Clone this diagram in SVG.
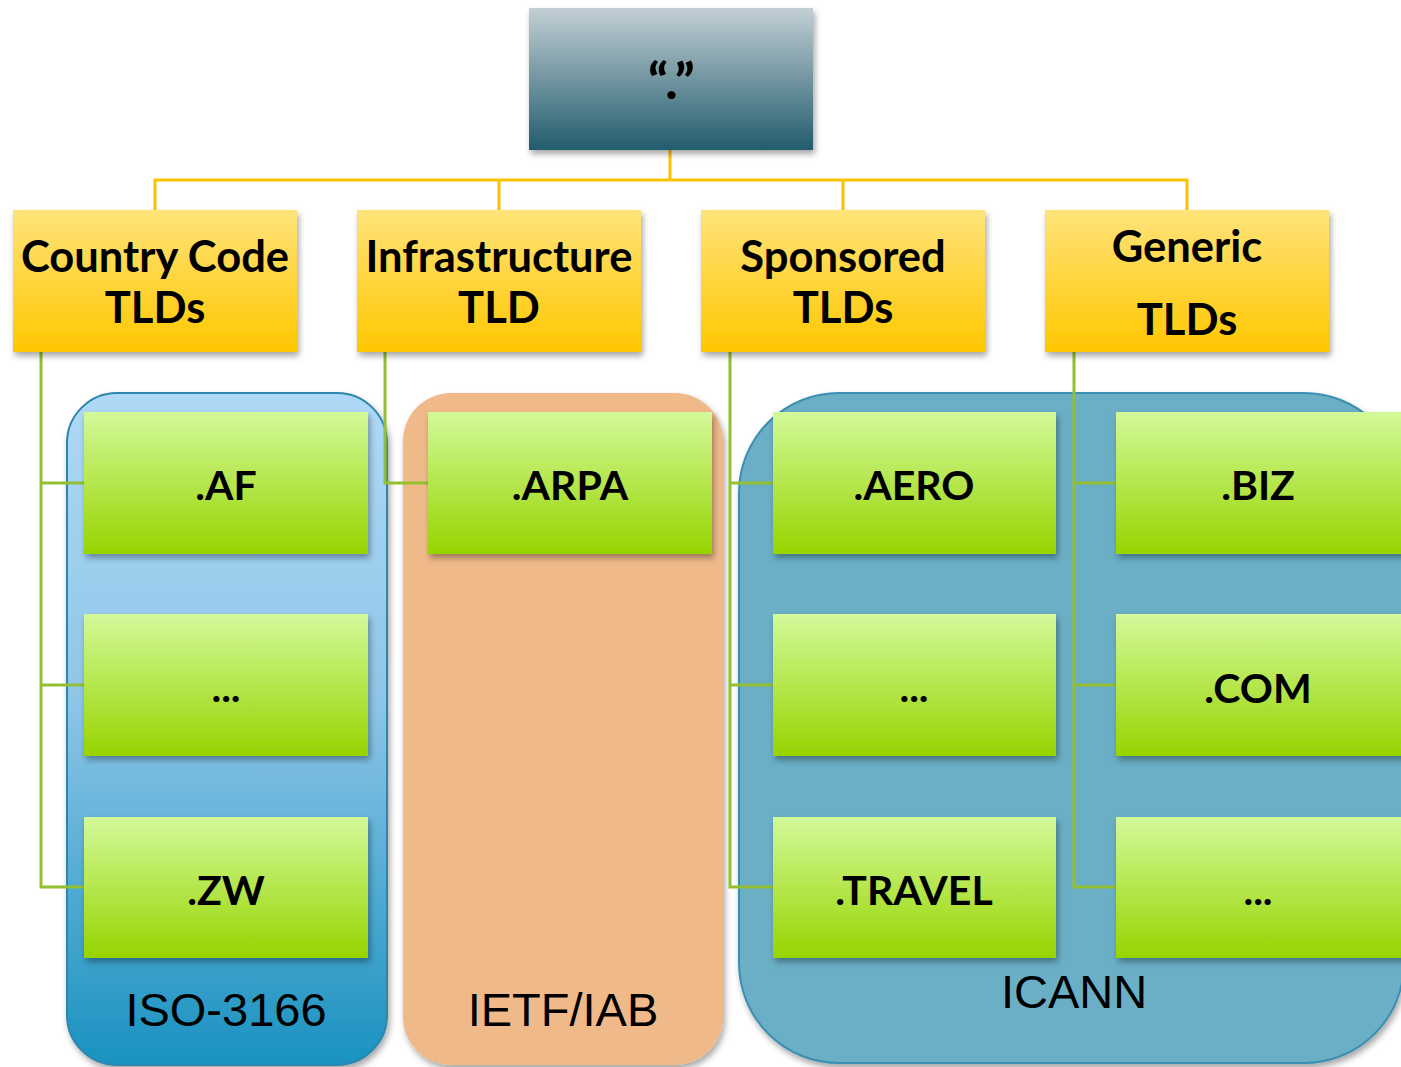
<svg xmlns="http://www.w3.org/2000/svg" width="1401" height="1067" viewBox="0 0 1401 1067">
<defs>
<linearGradient id="gRoot" x1="0" y1="0" x2="0" y2="1"><stop offset="0" stop-color="#c3cfd5"/><stop offset="1" stop-color="#225c6d"/></linearGradient>
<linearGradient id="gY" x1="0" y1="0" x2="0" y2="1"><stop offset="0" stop-color="#ffe37a"/><stop offset="1" stop-color="#ffc700"/></linearGradient>
<linearGradient id="gG" x1="0" y1="0" x2="0" y2="1"><stop offset="0" stop-color="#d3f99a"/><stop offset="1" stop-color="#97d400"/></linearGradient>
<linearGradient id="gIso" x1="0" y1="0" x2="0" y2="1"><stop offset="0" stop-color="#afd9f6"/><stop offset="0.45" stop-color="#8fc6e8"/><stop offset="1" stop-color="#1a92c0"/></linearGradient>
<filter id="sh" x="-10%" y="-10%" width="125%" height="130%"><feDropShadow dx="2" dy="4" stdDeviation="3" flood-color="#000" flood-opacity="0.35"/></filter>
</defs>
<style>
.hd{font-family:Lato,"Open Sans",sans-serif;font-weight:700;font-size:43.5px;fill:#000;text-anchor:middle}
.rt{font-family:Lato,"Open Sans",sans-serif;font-weight:900;font-size:50px;letter-spacing:3px;fill:#000;text-anchor:middle}
.gt{font-family:Lato,"Open Sans",sans-serif;font-weight:700;font-size:41px;fill:#000;text-anchor:middle}
.lb{font-family:"Liberation Sans",Arial,sans-serif;font-size:47px;fill:#000;text-anchor:middle}
.yb{fill:url(#gY);filter:url(#sh)}
.gb{fill:url(#gG);filter:url(#sh)}
.gold{stroke:#fcc200;stroke-width:3;fill:none}
.grn{stroke:#93c030;stroke-width:3;fill:none}
</style>

<g id="groups">
<g id="iso3166"><rect x="67" y="393" width="320" height="672" rx="50" fill="url(#gIso)" stroke="#2d86ad" stroke-width="2" filter="url(#sh)"/><text class="lb" x="226" y="1026">ISO-3166</text></g>
<g id="ietf"><rect x="403" y="393" width="320" height="672" rx="48" fill="#f0b98a" filter="url(#sh)"/><text class="lb" x="563" y="1026">IETF/IAB</text></g>
<g id="icann"><rect x="739" y="393" width="665" height="670" rx="100" fill="#6aafc6" stroke="#3a8fb2" stroke-width="2" filter="url(#sh)"/><text class="lb" x="1074" y="1008">ICANN</text></g>
</g>

<g id="connectors">
<path class="gold" d="M670 150V180M155 210V180H1187V210M499 180V210M843 180V210"/>
<path class="grn" d="M41 352V887H84M41 483H84M41 685H84"/>
<path class="grn" d="M385 352V483H428"/>
<path class="grn" d="M730 352V887H773M730 483H773M730 685H773"/>
<path class="grn" d="M1074 352V887H1116M1074 483H1116M1074 685H1116"/>
</g>

<g id="root"><rect x="529" y="8" width="284" height="142" fill="url(#gRoot)" filter="url(#sh)"/><text class="rt" x="673" y="99">“.”</text></g>

<g id="cc"><rect class="yb" x="13" y="210" width="284" height="142"/><text class="hd" x="155" y="272">Country Code</text><text class="hd" x="155" y="323">TLDs</text></g>
<g id="infra"><rect class="yb" x="357" y="210" width="284" height="142"/><text class="hd" x="499" y="272">Infrastructure</text><text class="hd" x="499" y="323">TLD</text></g>
<g id="spons"><rect class="yb" x="701" y="210" width="284" height="142"/><text class="hd" x="843" y="272">Sponsored</text><text class="hd" x="843" y="323">TLDs</text></g>
<g id="gen"><rect class="yb" x="1045" y="210" width="284" height="142"/><text class="hd" x="1187" y="262">Generic</text><text class="hd" x="1187" y="335">TLDs</text></g>

<g id="af"><rect class="gb" x="84" y="412" width="284" height="142"/><text class="gt" x="226" y="500">.AF</text></g>
<g id="ccdots"><rect class="gb" x="84" y="614" width="284" height="142"/><text class="gt" x="226" y="702">...</text></g>
<g id="zw"><rect class="gb" x="84" y="817" width="284" height="141"/><text class="gt" x="226" y="905">.ZW</text></g>
<g id="arpa"><rect class="gb" x="428" y="412" width="284" height="142"/><text class="gt" x="570" y="500">.ARPA</text></g>
<g id="aero"><rect class="gb" x="773" y="412" width="283" height="142"/><text class="gt" x="914" y="500">.AERO</text></g>
<g id="spdots"><rect class="gb" x="773" y="614" width="283" height="142"/><text class="gt" x="914" y="702">...</text></g>
<g id="travel"><rect class="gb" x="773" y="817" width="283" height="141"/><text class="gt" x="914" y="905">.TRAVEL</text></g>
<g id="biz"><rect class="gb" x="1116" y="412" width="290" height="142"/><text class="gt" x="1258" y="500">.BIZ</text></g>
<g id="com"><rect class="gb" x="1116" y="614" width="290" height="142"/><text class="gt" x="1258" y="703">.COM</text></g>
<g id="gendots"><rect class="gb" x="1116" y="817" width="290" height="141"/><text class="gt" x="1258" y="905">...</text></g>
</svg>
